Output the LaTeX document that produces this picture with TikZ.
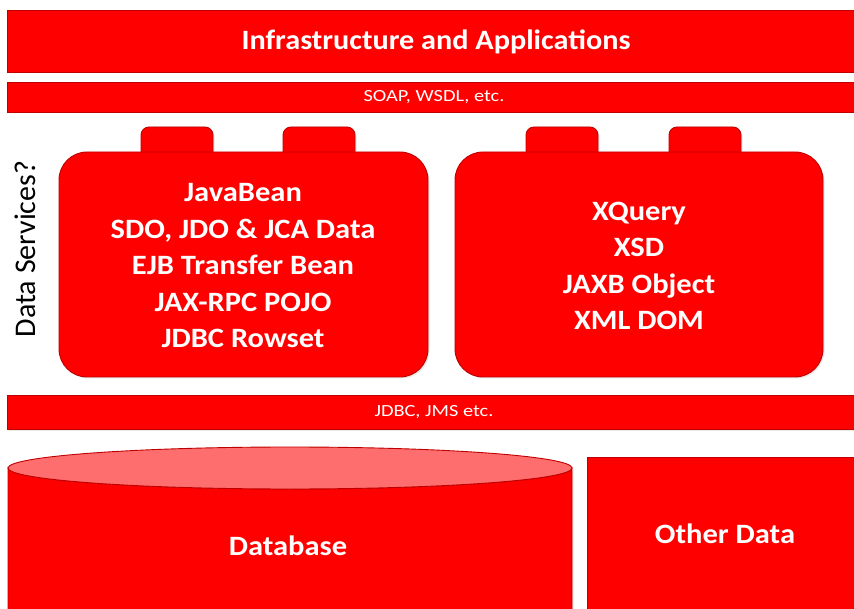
\documentclass[tikz,border=0pt]{standalone}
\usepackage{fontspec}
\setmainfont{Carlito}
\usetikzlibrary{shadows}
\definecolor{fillred}{RGB}{255,0,0}
\definecolor{edgered}{RGB}{192,0,0}
\definecolor{toplight}{RGB}{255,110,110}
\begin{document}
\begin{tikzpicture}[x=1pt,y=-1pt,
  redshape/.style={fill=fillred,draw=edgered,line width=0.9pt,
    drop shadow={opacity=0.18,shadow xshift=1.5pt,shadow yshift=-1.5pt}},
  bartext/.style={text=white,font=\fontsize{17}{20}\selectfont,xscale=1.2},
  bigtext/.style={text=white,font=\bfseries\fontsize{28}{36.5}\selectfont,align=center,xscale=1.09},
  tabbox/.style={redshape,rounded corners=8pt}]
\useasboundingbox (0,0) rectangle (854,609);
% top bars
\path[redshape] (7,10) rectangle (870,72);
\node[text=white,font=\bfseries\fontsize{28}{32}\selectfont,xscale=1.08] (infra) at (436,42) {Infrastructure and Applications};
\path[redshape] (7,82) rectangle (870,112);
\node[bartext] (soap) at (434,97.5) {SOAP, WSDL, etc.};
% data services label
\node[rotate=90,font=\fontsize{30}{34}\selectfont,text=black] (ds) at (25,249) {Data Services?};
% left box
\path[tabbox] (141,127) rectangle (213,180);
\path[tabbox] (283,127) rectangle (355,180);
\path[redshape,rounded corners=28pt] (59,152) rectangle (428,377);
\node[bigtext] (left) at (243,266) {JavaBean\\SDO, JDO \& JCA Data\\EJB Transfer Bean\\JAX-RPC POJO\\JDBC Rowset};
% right box
\path[tabbox] (526,127) rectangle (598,180);
\path[tabbox] (669,127) rectangle (741,180);
\path[redshape,rounded corners=28pt] (455,152) rectangle (823,377);
\node[bigtext] (right) at (639,266) {XQuery\\XSD\\JAXB Object\\XML DOM};
% JDBC bar
\path[redshape] (7,395) rectangle (870,429);
\node[bartext] (jdbc) at (434,412) {JDBC, JMS etc.};
% database cylinder
\path[redshape] (8,468) -- (8,640) arc[start angle=180,end angle=360,x radius=282,y radius=21] -- (572,468) arc[start angle=0,end angle=180,x radius=282,y radius=21] -- cycle;
\path[fill=toplight,draw=edgered,line width=0.9pt] (290,468) ellipse[x radius=282,y radius=21];
\node[bigtext] (db) at (288,546) {Database};
% other data
\path[redshape] (587,457) rectangle (880,640);
\node[bigtext] (other) at (725,534) {Other Data};
\end{tikzpicture}
\end{document}
